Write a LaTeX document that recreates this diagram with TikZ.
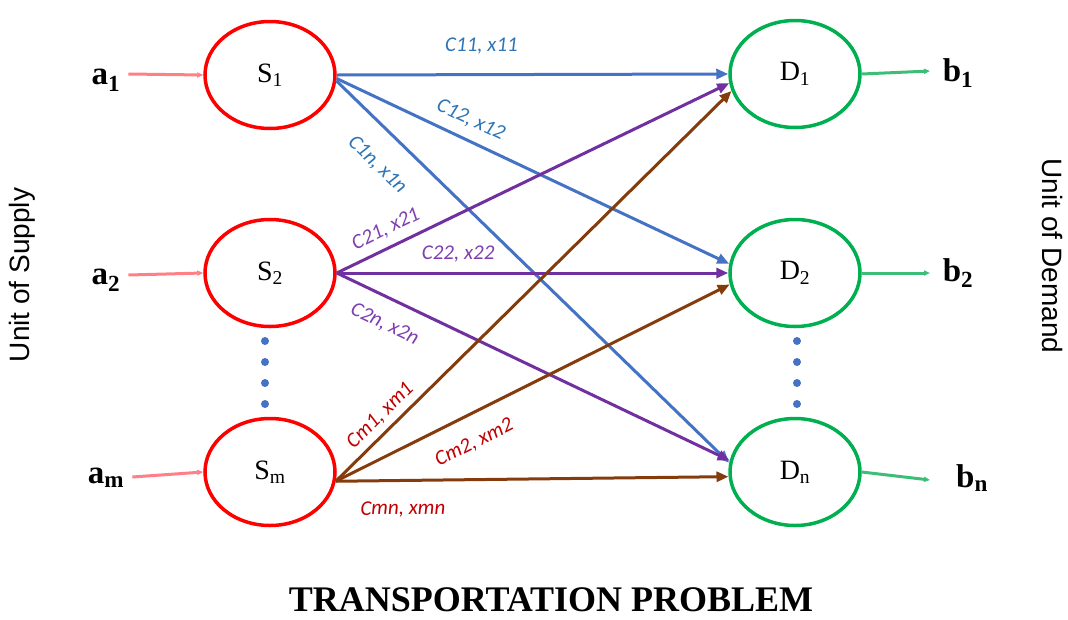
\documentclass[tikz,border=0pt]{standalone}
\usepackage{fontspec}
\setmainfont{Liberation Serif}
\newfontfamily\labelfont{Carlito}
\newfontfamily\sidefont{Liberation Sans}
\usetikzlibrary{shapes.geometric,arrows.meta}

\definecolor{supplyred}{HTML}{FF0000}
\definecolor{demandgreen}{HTML}{00B050}
\definecolor{feedpink}{HTML}{FF7F86}
\definecolor{outgreen}{HTML}{3DBE78}
\definecolor{rowone}{HTML}{4472C4}
\definecolor{rowtwo}{HTML}{7030A0}
\definecolor{rowm}{HTML}{843C0C}
\definecolor{txtone}{HTML}{2E75B6}
\definecolor{txttwo}{HTML}{7F3FB0}
\definecolor{txtm}{HTML}{C00000}

\tikzset{
  supply/.style={ellipse, draw=supplyred, line width=3.5pt, minimum width=130pt, minimum height=107pt, inner sep=0pt, font=\fontsize{28}{30}\selectfont},
  demand/.style={supply, draw=demandgreen},
  qty/.style={font=\bfseries\fontsize{33}{36}\selectfont, inner sep=0pt},
  route/.style={line width=3pt, -{Triangle[length=12pt,width=10pt]}},
  feed/.style={line width=3pt, feedpink, -{Triangle[length=6pt,width=5pt]}},
  drain/.style={line width=3pt, outgreen, -{Triangle[length=6pt,width=5pt]}},
  cost/.style={sloped, inner sep=0pt, font=\labelfont\itshape\fontsize{21}{22}\selectfont},
  vdot/.style={circle, fill=rowone, inner sep=0pt, minimum size=8pt},
  side/.style={font=\sidefont\fontsize{28}{30}\selectfont, inner sep=0pt}
}

\begin{document}
\begin{tikzpicture}[x=1pt, y=-1pt]
\useasboundingbox (0,0) rectangle (1068,619);

% sources and destinations
\node[supply] (S1) at (270,75)  {S\textsubscript{1}};
\node[supply] (S2) at (270,273) {S\textsubscript{2}};
\node[supply] (Sm) at (270,472) {S\textsubscript{m}};
\node[demand] (D1) at (795,74)  {D\textsubscript{1}};
\node[demand] (D2) at (795,273) {D\textsubscript{2}};
\node[demand] (Dn) at (795,472) {D\textsubscript{n}};

% supply quantities
\node[qty] (a1) at (106,80)  {a\textsubscript{1}};
\node[qty] (a2) at (106,280) {a\textsubscript{2}};
\node[qty] (am) at (106,478) {a\textsubscript{m}};
\draw[feed] (a1.east) ++(8,-6) coordinate (a1s) (a1s) -- (S1.west);
\draw[feed] (a2.east) ++(8,-5) coordinate (a2s) (a2s) -- (S2.west);
\draw[feed] (am.east) ++(8,-1) coordinate (ams) (ams) -- (Sm.west);

% demand quantities
\node[qty] (b1) at (958,73)  {b\textsubscript{1}};
\node[qty] (b2) at (958,273) {b\textsubscript{2}};
\node[qty] (bn) at (972,478) {b\textsubscript{n}};
\coordinate (b1e) at (930,71);
\coordinate (b2e) at (930,273);
\coordinate (bne) at (930,480);
\draw[drain] (D1.east) -- (b1e);
\draw[drain] (D2.east) -- (b2e);
\draw[drain] (Dn.east) -- (bne);

% vertical dots
\foreach \yy [count=\k] in {341,362,383,404} {
  \node[vdot] (ls\k) at (265,\yy) {};
  \node[vdot] (rd\k) at (797,\yy) {};
}

% routes from S1
\draw[route, rowone] (S1.east) -- (D1.west)
  node[cost, pos=0.37, above=19pt, txtone] {C11, x11};
\draw[route, rowone] (S1.-3) -- (D2.172)
  node[cost, pos=0.32, above=10pt, txtone] {C12, x12};
\draw[route, rowone] (S1.-5) -- (Dn.172)
  node[cost, pos=0.16, below=22pt, txtone] {C1n, x1n};

% routes from S2
\draw[route, rowtwo] (S2.east) -- (D1.188)
  node[cost, pos=0.145, above=8pt, txttwo] {C21, x21};
\draw[route, rowtwo] (S2.east) -- (D2.west)
  node[cost, pos=0.31, above=9pt, txttwo] {C22, x22};
\draw[route, rowtwo] (S2.east) -- (Dn.170)
  node[cost, pos=0.15, below=16pt, txttwo] {C2n, x2n};

% routes from Sm
\draw[route, rowm] (Sm.-8) -- (D1.195)
  node[cost, pos=0.14, above=6pt, txtm] {Cm1, xm1};
\draw[route, rowm] (Sm.-8) -- (D2.190)
  node[cost, pos=0.32, below=18pt, txtm] {Cm2, xm2};
\draw[route, rowm] (Sm.-8) -- (Dn.184)
  node[cost, pos=0.17, below=19pt, txtm] {Cmn, xmn};

% side captions and title
\node[side, rotate=90] (supplycap) at (22,275) {Unit of Supply};
\node[side, rotate=-90] (demandcap) at (1052,256) {Unit of Demand};
\node[font=\bfseries\fontsize{36}{38}\selectfont, inner sep=0pt] (title) at (551,600) {TRANSPORTATION PROBLEM};
\end{tikzpicture}
\end{document}
